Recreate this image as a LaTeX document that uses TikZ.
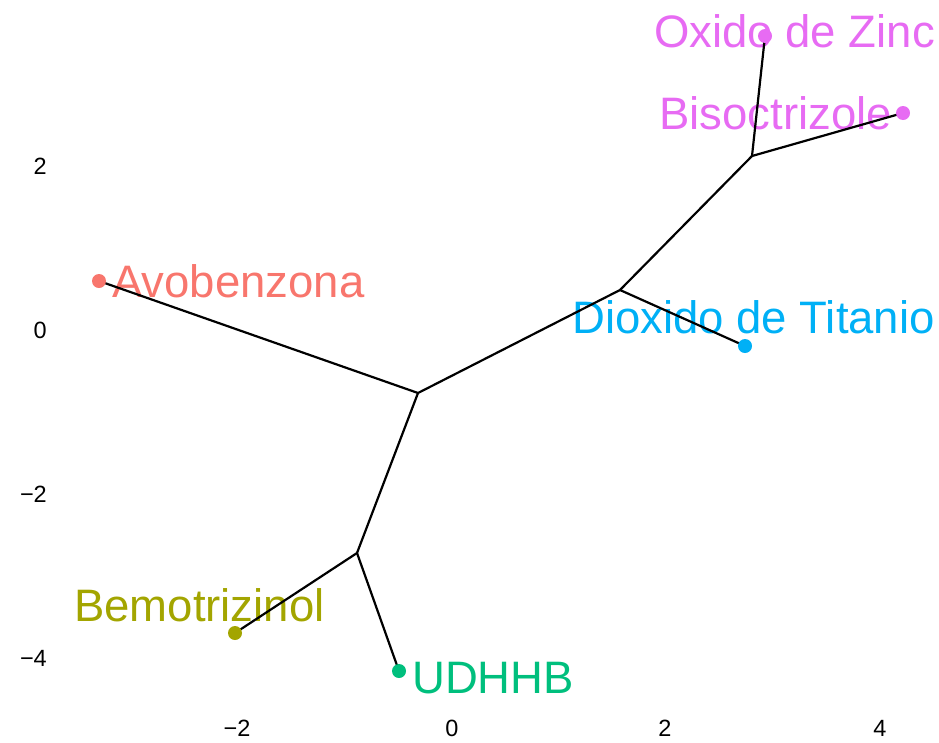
\documentclass[tikz,border=0pt]{standalone}
\usepackage{fontspec}
\setmainfont{Liberation Sans}
\definecolor{cAvo}{HTML}{F8766D}
\definecolor{cBem}{HTML}{A3A500}
\definecolor{cUDH}{HTML}{00BF7D}
\definecolor{cTio}{HTML}{00B0F6}
\definecolor{cZnc}{HTML}{E76BF3}
\tikzset{
  edge/.style={line width=2.2pt, black},
  tip/.style={circle, fill=#1, inner sep=0pt, minimum size=14pt},
  lab/.style={anchor=base west, inner sep=0pt, text=#1, font=\fontsize{45.5}{50}\selectfont},
  tick/.style={inner sep=0pt, text=black, font=\fontsize{23.5}{26}\selectfont}
}
\begin{document}
\begin{tikzpicture}[x=1pt,y=-1pt]
\useasboundingbox (0,0) rectangle (939,742);
% labels
\node[lab=cAvo] (lAvo) at (112,297) {Avobenzona};
\node[lab=cBem] (lBem) at (74,621) {Bemotrizinol};
\node[lab=cUDH] (lUDH) at (412,693) {UDHHB};
\node[lab=cTio] (lTio) at (572,333) {Dioxido de Titanio};
\node[lab=cZnc] (lZnc) at (654,47) {Oxido de Zinc};
\node[lab=cZnc] (lBis) at (659,129) {Bisoctrizole};
% axis ticks
\node[tick, anchor=base east] (y2) at (47,174.5) {2};
\node[tick, anchor=base east] (y0) at (47,338.5) {0};
\node[tick, anchor=base east] (ym2) at (47,502.5) {−2};
\node[tick, anchor=base east] (ym4) at (47,666.5) {−4};
\node[tick, anchor=base] (xm2) at (237,736) {−2};
\node[tick, anchor=base] (x0) at (452,736) {0};
\node[tick, anchor=base] (x2) at (665,736) {2};
\node[tick, anchor=base] (x4) at (880,736) {4};
% internal nodes
\coordinate (nA) at (418,393);
\coordinate (nB) at (357,553);
\coordinate (nC) at (620,290);
\coordinate (nD) at (752,156);
% tips
\coordinate (tAvo) at (99,281);
\coordinate (tBem) at (235,633);
\coordinate (tUDH) at (399,671);
\coordinate (tTio) at (745,346);
\coordinate (tZnc) at (765,36);
\coordinate (tBis) at (903,113);
% edges
\draw[edge] (nA) -- (tAvo);
\draw[edge] (nA) -- (nB);
\draw[edge] (nB) -- (tBem);
\draw[edge] (nB) -- (tUDH);
\draw[edge] (nA) -- (nC);
\draw[edge] (nC) -- (tTio);
\draw[edge] (nC) -- (nD);
\draw[edge] (nD) -- (tZnc);
\draw[edge] (nD) -- (tBis);
% points
\node[tip=cAvo] (pAvo) at (tAvo) {};
\node[tip=cBem] (pBem) at (tBem) {};
\node[tip=cUDH] (pUDH) at (tUDH) {};
\node[tip=cTio] (pTio) at (tTio) {};
\node[tip=cZnc] (pZnc) at (tZnc) {};
\node[tip=cZnc] (pBis) at (tBis) {};
\end{tikzpicture}
\end{document}
